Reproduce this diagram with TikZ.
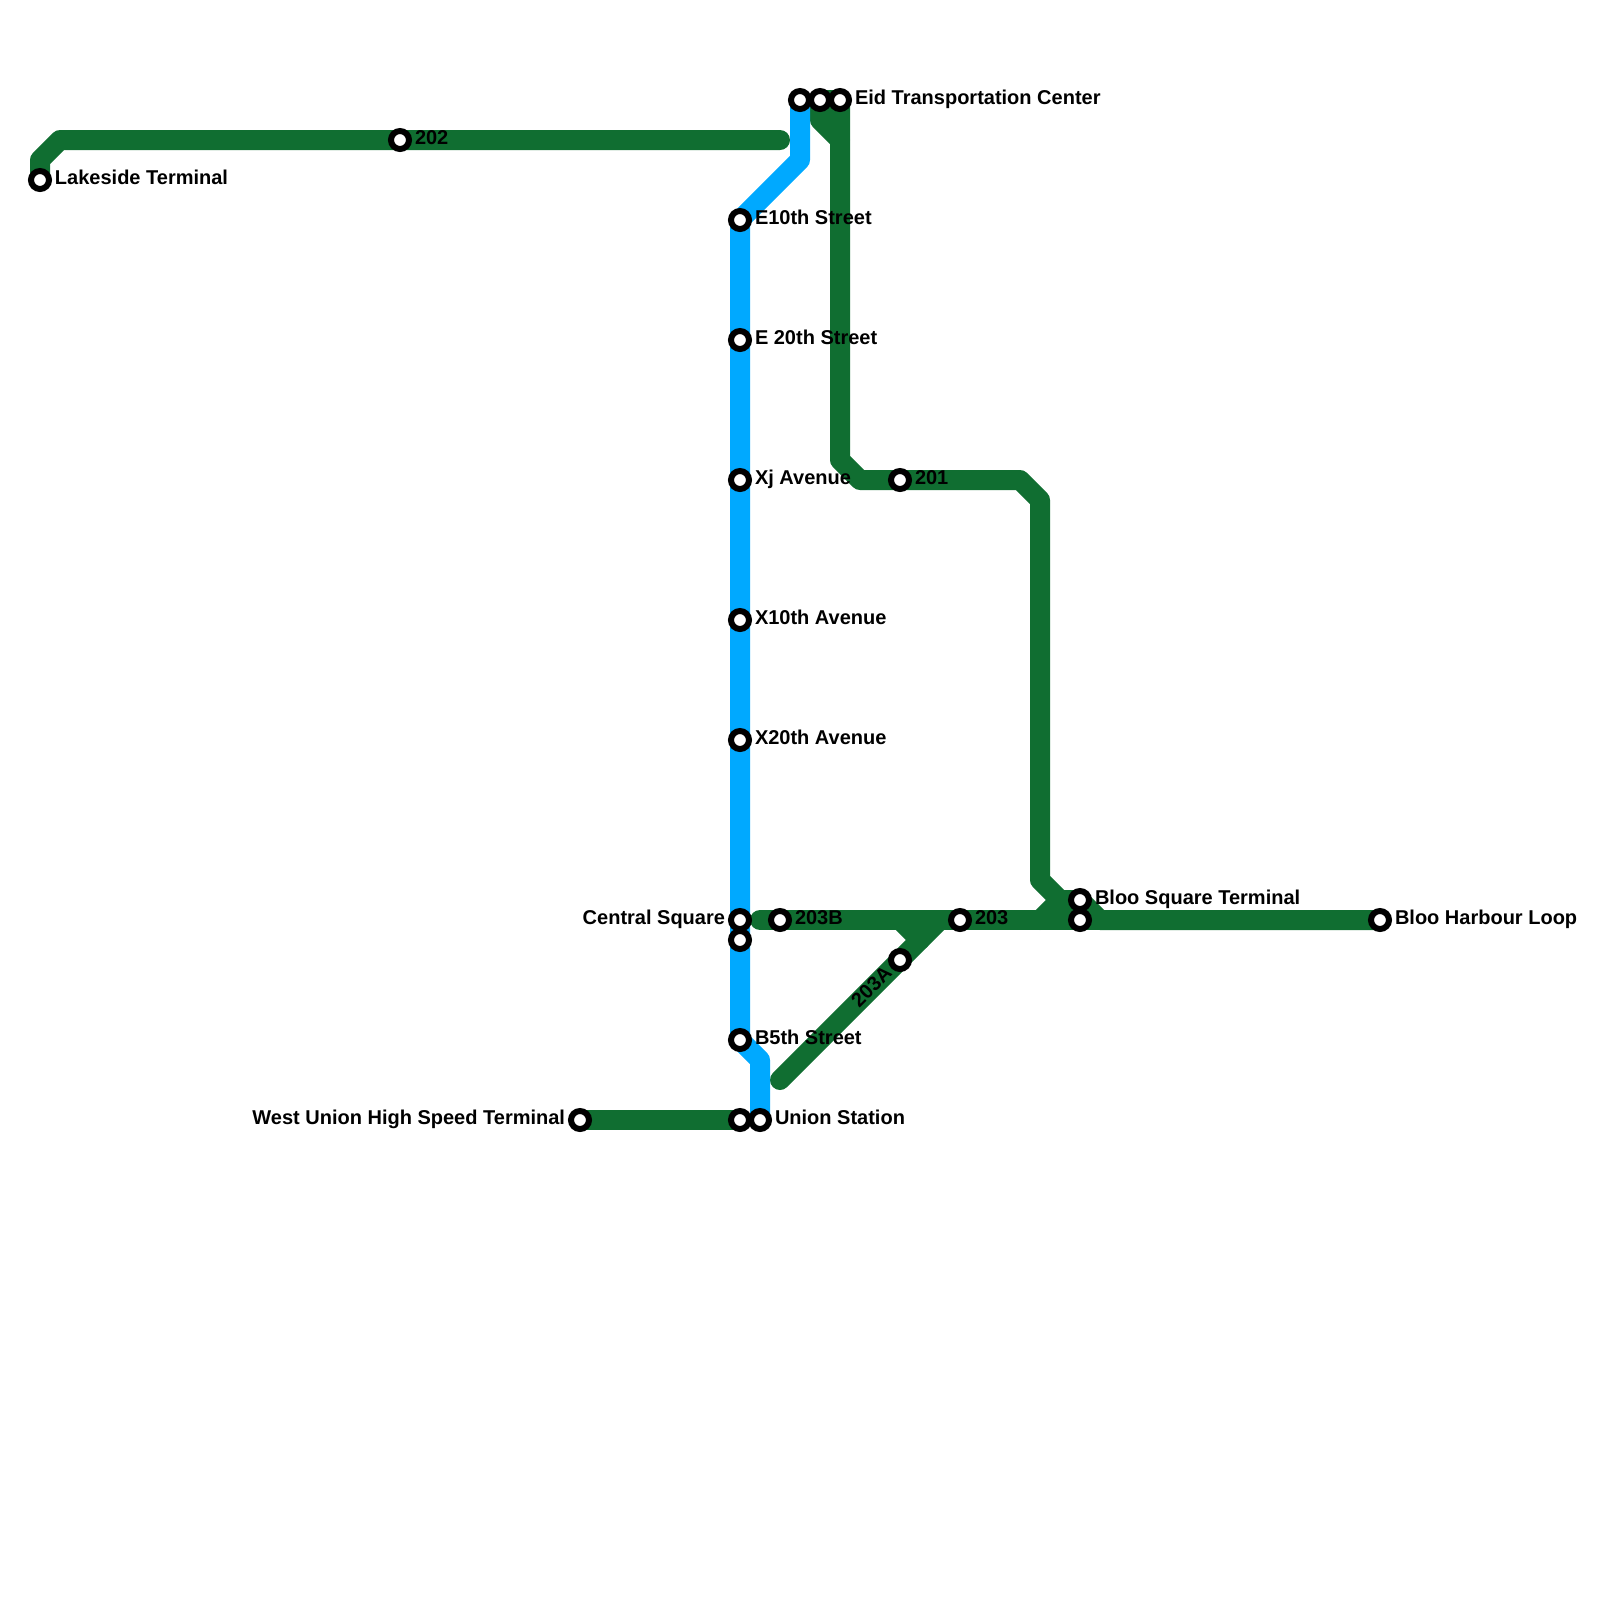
\documentclass[tikz,border=0pt]{standalone}
\usepackage{fontspec}
\setmainfont{Liberation Sans}
\usepackage{tikz}
\usetikzlibrary{positioning,backgrounds}
\usepackage{xcolor}
\definecolor{routegreen}{HTML}{106E31}
\definecolor{routeblue}{HTML}{00A9FF}

\begin{document}
\begin{tikzpicture}[
    x=0.2cm, y=-0.2cm,
    node distance=0.03cm,
    stn/.style={circle, draw=black, fill=white, line width=0.06cm, minimum size=0.18cm, inner sep=0pt},
    stnlabel/.style={inner sep=0pt, outer sep=0pt, text=black, text height=0.105cm, text depth=0.015cm,
                     font=\fontsize{5.69pt}{6pt}\selectfont\bfseries},
    greenline/.style={draw=routegreen, line width=0.2cm, line cap=round, line join=round},
    blueline/.style={draw=routeblue, line width=0.2cm, line cap=round, line join=round},
]
  \useasboundingbox (0,0) rectangle (80,80);

  % stations
  \node[stn] (lakeside) at (2,9) {};
  \node[stn] (stnB) at (20,7) {};
  \node[stn] (topA) at (40,5) {};
  \node[stn] (topB) at (41,5) {};
  \node[stn] (eid) at (42,5) {};
  \node[stn] (etenth) at (37,11) {};
  \node[stn] (etwenty) at (37,17) {};
  \node[stn] (xj) at (37,24) {};
  \node[stn] (xten) at (37,31) {};
  \node[stn] (xtwenty) at (37,37) {};
  \node[stn] (central) at (37,46) {};
  \node[stn] (centralB) at (37,47) {};
  \node[stn] (bfifth) at (37,52) {};
  \node[stn] (unionW) at (37,56) {};
  \node[stn] (union) at (38,56) {};
  \node[stn] (westunion) at (29,56) {};
  \node[stn] (stnA) at (45,24) {};
  \node[stn] (stnCB) at (39,46) {};
  \node[stn] (stnC) at (48,46) {};
  \node[stn] (stnCA) at (45,48) {};
  \node[stn] (bloo) at (54,45) {};
  \node[stn] (blooB) at (54,46) {};
  \node[stn] (harbour) at (69,46) {};

  % labels
  \node[stnlabel, right=of lakeside] (lakesideL) {Lakeside Terminal};
  \node[stnlabel, right=of stnB] (stnBL) {202};
  \node[stnlabel, right=of eid] (eidL) {Eid Transportation Center};
  \node[stnlabel, right=of etenth] (etenthL) {E10th Street};
  \node[stnlabel, right=of etwenty] (etwentyL) {E 20th Street};
  \node[stnlabel, right=of xj] (xjL) {Xj Avenue};
  \node[stnlabel, right=of xten] (xtenL) {X10th Avenue};
  \node[stnlabel, right=of xtwenty] (xtwentyL) {X20th Avenue};
  \node[stnlabel, left=of central] (centralL) {Central Square};
  \node[stnlabel, right=of bfifth] (bfifthL) {B5th Street};
  \node[stnlabel, right=of union] (unionL) {Union Station};
  \node[stnlabel, left=of westunion] (westunionL) {West Union High Speed Terminal};
  \node[stnlabel, right=of stnA] (stnAL) {201};
  \node[stnlabel, right=of stnCB] (stnCBL) {203B};
  \node[stnlabel, right=of stnC] (stnCL) {203};
  \node[stnlabel, rotate=45, anchor=east] (stnCAL) at (44.5,48.55) {203A};
  \node[stnlabel, right=of bloo] (blooL) {Bloo Square Terminal};
  \node[stnlabel, right=of harbour] (harbourL) {Bloo Harbour Loop};

  % route lines, under the stations
  \begin{scope}[on background layer]
    \coordinate (endA) at (39,7);
    \coordinate (endC) at (38,46);
    \coordinate (endD) at (39,54);
    \draw[greenline] (lakeside.center) -- ++(0,-1) -- ++(1,-1) -- (stnB.center) -- (endA);
    \draw[greenline] (eid.center) -- ++(0,18) -- ++(1,1) -- (stnA.center) -- ++(6,0) -- ++(1,1)
        -- ++(0,19) -- ++(1,1) -- (bloo.center) -- ++(1,1) -- (harbour.center);
    \draw[greenline] (topB.center) -- (eid.center);
    \draw[greenline] (topB.center) -- ++(0,1) -- ++(1,1);
    \draw[greenline] (endC) -- (stnCB.center) -- (stnC.center) -- (blooB.center) -- (harbour.center);
    \draw[greenline] (endD) -- (stnCA.center) -- (47,46);
    \draw[greenline] (45,46) -- (46,47);
    \draw[greenline] (53,45) -- (52,46);
    \draw[greenline] (westunion.center) -- (unionW.center);
    \draw[blueline] (topA.center) -- ++(0,3) -- (etenth.center) -- (etwenty.center) -- (xj.center)
        -- (xten.center) -- (xtwenty.center) -- (central.center) -- (centralB.center)
        -- (bfifth.center) -- ++(1,1) -- (union.center);
  \end{scope}
\end{tikzpicture}
\end{document}
